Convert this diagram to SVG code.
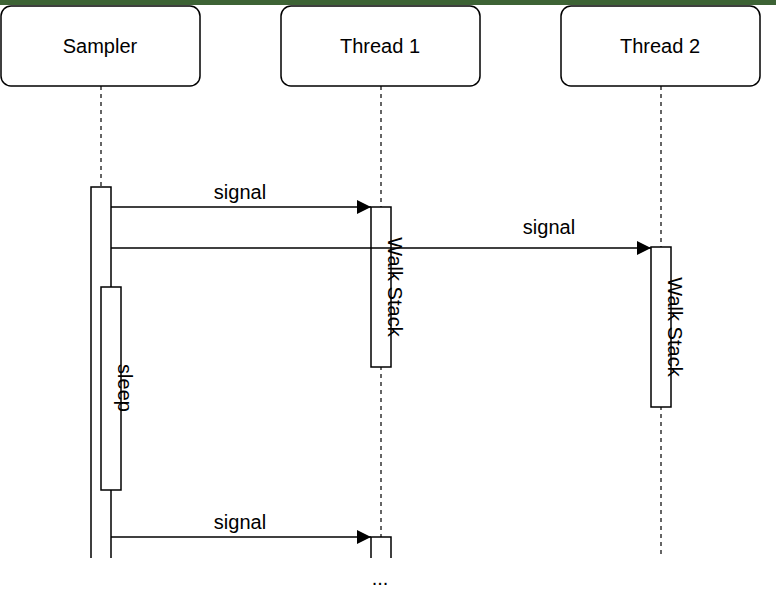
<svg xmlns="http://www.w3.org/2000/svg" width="776" height="598" viewBox="0 0 776 598">
<defs>
<style>
text{font-family:"Liberation Sans",Arial,sans-serif;font-size:20px;fill:#000}
.box{fill:#fff;stroke:#000;stroke-width:1.5}
.life{stroke:#000;stroke-width:1.2;stroke-dasharray:4 4;fill:none}
.act{fill:#fff;stroke:#000;stroke-width:1.5}
.msg{stroke:#000;stroke-width:1.5;fill:none;marker-end:url(#arr)}
</style>
<marker id="arr" viewBox="0 0 10 10" refX="10" refY="5" markerWidth="14" markerHeight="14" markerUnits="userSpaceOnUse" orient="auto"><path d="M0,0 L10,5 L0,10 z" fill="#000"/></marker>
</defs>
<rect width="776" height="598" fill="#fff"/>
<rect x="0" y="0" width="776" height="5" fill="#3d6335"/>
<g id="sampler">
<rect class="box" x="1" y="6" width="199" height="80" rx="10"/>
<text x="100" y="53" text-anchor="middle">Sampler</text>
<line class="life" x1="101" y1="86" x2="101" y2="187"/>
<path class="act" d="M91,558 V187 H111 V558"/>
</g>
<g id="thread1">
<rect class="box" x="281" y="6" width="199" height="80" rx="10"/>
<text x="380" y="53" text-anchor="middle">Thread 1</text>
<line class="life" x1="381" y1="86" x2="381" y2="537"/>
<rect class="act" x="371" y="207" width="20" height="160"/>
<text transform="translate(381,287) rotate(90)" x="0" y="-7" text-anchor="middle">Walk Stack</text>
<path class="act" d="M371,558 V537 H391 V558"/>
<text x="380" y="585" text-anchor="middle">...</text>
</g>
<g id="thread2">
<rect class="box" x="561" y="6" width="199" height="80" rx="10"/>
<text x="660" y="53" text-anchor="middle">Thread 2</text>
<line class="life" x1="661" y1="86" x2="661" y2="558"/>
<rect class="act" x="651" y="247" width="20" height="160"/>
<text transform="translate(661,327) rotate(90)" x="0" y="-7" text-anchor="middle">Walk Stack</text>
</g>
<g id="sleep">
<rect class="act" x="101" y="287" width="20" height="203"/>
<text transform="translate(111,388) rotate(90)" x="0" y="-7" text-anchor="middle">sleep</text>
</g>
<g id="connectors">
<line class="msg" x1="111" y1="207" x2="371" y2="207"/>
<text x="240" y="199" text-anchor="middle">signal</text>
<line class="msg" x1="111" y1="248" x2="651" y2="248"/>
<text x="549" y="234" text-anchor="middle">signal</text>
<line class="msg" x1="111" y1="537" x2="371" y2="537"/>
<text x="240" y="529" text-anchor="middle">signal</text>
</g>
</svg>
